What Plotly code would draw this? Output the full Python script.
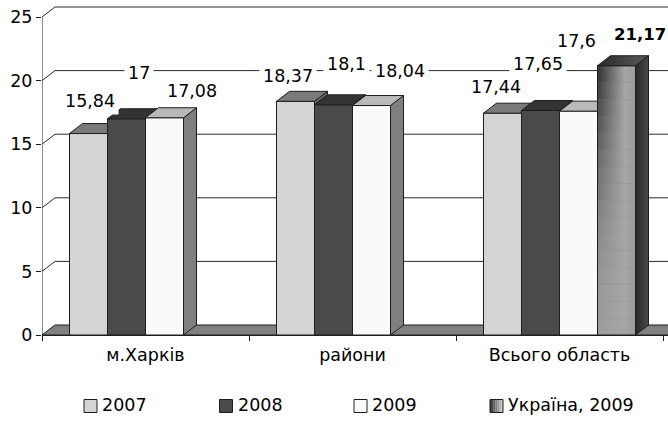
import plotly.graph_objects as go

# ---- data -------------------------------------------------------------
categories = ["м.Харків", "райони", "Всього область"]
series_names = ["2007", "2008", "2009", "Україна, 2009"]
values_2007 = [15.84, 18.37, 17.44]
values_2008 = [17, 18.1, 17.65]
values_2009 = [17.08, 18.04, 17.6]
values_ukraine_2009 = [None, None, 21.17]
y_tick_values = [0, 5, 10, 15, 20, 25]

series_values = [values_2007, values_2008, values_2009, values_ukraine_2009]

# ---- styling ----------------------------------------------------------
FONT = "DejaVu Sans"
FS = 17.5
INK = "#1e1e1e"
front_colors = ["#d4d4d4", "#4a4a4a", "#fafafa", "#7a7a7a"]
top_colors = ["#7a7a7a", "#333333", "#b9b9b9", "#3a3a3a"]
side_colors = ["#6a6a6a", "#2e2e2e", "#7f7f7f", "#303030"]

# label offsets (px) from the centre of each bar's top edge, per series/group
label_shift = [
    [(1.5, 32.5), (-7.5, 25), (-6.5, 25.7)],
    [(12, 46), (13, 41), (-3, 46.5)],
    [(27, 27), (28.5, 34.5), (-2, 70.6)],
    [None, None, (23, 31.7)],
]

# legend entry positions (px from the page's left edge) and row centre
legend_left = [84, 219.5, 354, 490]
legend_row_y = 406

# ---- geometry of the plotting area ------------------------------------
W, H = 668, 421
ML, MR, MT, MB = 42, 0, 0, 86
plot_w, plot_h = W - ML - MR, H - MT - MB
px_per_cat = 207.0
px_per_unit = 12.72
x0 = -0.5
x1 = x0 + plot_w / px_per_cat
y1 = plot_h / px_per_unit

# depth of the pseudo-3D boxes, in data units
DEPTH_PX = (13, 10)
dx = DEPTH_PX[0] / px_per_cat
dy = DEPTH_PX[1] / px_per_unit

n_series = len(series_values)
bargap = 0.2657
bw = (1 - bargap) / n_series

fig = go.Figure()

# front faces
for s, (name, vals) in enumerate(zip(series_names, series_values)):
    fig.add_trace(go.Bar(
        name=name, x=list(range(len(categories))), y=vals,
        marker=dict(color=front_colors[s], line=dict(color=INK, width=1)),
        hoverinfo="skip", showlegend=False,
    ))


def poly(xs, ys, color, gradient=None, width=1):
    kw = dict(
        x=xs + [xs[0]], y=ys + [ys[0]], mode="lines", fill="toself",
        fillcolor=color, line=dict(color=INK, width=width),
        showlegend=False, hoverinfo="skip",
    )
    if gradient is not None:
        kw["fillgradient"] = dict(type="horizontal", colorscale=gradient)
    fig.add_trace(go.Scatter(**kw))


def mix(c1, c2, t):
    a = [int(c1[i:i + 2], 16) for i in (1, 3, 5)]
    b = [int(c2[i:i + 2], 16) for i in (1, 3, 5)]
    return "#" + "".join(f"{round(p + (q - p) * t):02x}" for p, q in zip(a, b))


# shaded front of the national bar: darker towards the top-left
for c in range(len(categories)):
    v = values_ukraine_2009[c]
    if v is None:
        continue
    cx = c + (3 - 1.5) * bw
    L, R = cx - bw / 2, cx + bw / 2
    bands = 16
    for k in range(bands):
        ya, yb = v * k / bands, v * (k + 1) / bands
        f = ((k + 0.5) / bands) ** 1.8
        left = mix("#9c9c9c", "#2c2c2c", f)
        grad = [[0, left], [0.72, "#a6a6a6"], [1, "#9a9a9a"]]
        poly([L, R, R, L], [ya, ya, yb, yb], "#999999", grad, width=0)
    poly([L, R, R, L], [0, 0, v, v], "rgba(0,0,0,0)")

# tops and visible sides
for c in range(len(categories)):
    for s in range(n_series):
        t = series_values[s][c]
        if t is None:
            continue
        cx = c + (s - 1.5) * bw
        L, R = cx - bw / 2, cx + bw / 2
        tn = series_values[s + 1][c] if s + 1 < n_series else None
        is_ua = s == 3
        # side face
        if tn is None:
            poly([R, R, R + dx, R + dx], [0, t, t + dy, dy], side_colors[s],
                 [[0, "#262626"], [1, "#4a4a4a"]] if is_ua else None)
        elif tn < t:
            poly([R, R, R + dx, R + dx], [tn, t, t + dy, tn + dy], side_colors[s])
        # top face (part hidden by a taller neighbour is cut away)
        h = 0.0 if tn is None else min(max(tn - t, 0.0), dy)
        if h <= 0:
            xs = [L, R, R + dx, L + dx]
            ys = [t, t, t + dy, t + dy]
        elif h >= dy:
            xs = [L, R, R, L + dx]
            ys = [t, t, t + dy, t + dy]
        else:
            xs = [L, R, R, R + dx * h / dy, R + dx, L + dx]
            ys = [t, t, t + h, t + h, t + dy, t + dy]
        poly(xs, ys, top_colors[s],
             [[0, "#2a2a2a"], [1, "#5a5a5a"]] if is_ua else None)

# value labels
for s in range(n_series):
    for c in range(len(categories)):
        v = series_values[s][c]
        if v is None:
            continue
        sx, sy = label_shift[s][c]
        bold = s == 3
        fig.add_annotation(
            x=c + (s - 1.5) * bw, y=v, xref="x", yref="y",
            text=(f"<b>{v:g}</b>" if bold else f"{v:g}").replace(".", ","),
            showarrow=False, xshift=sx, yshift=sy,
            font=dict(family=FONT, size=16.5 if bold else FS, color="#000"),
            bgcolor="white", borderpad=3,
        )

# walls, floor and gridlines
shapes = []
floor_path = (f"M{x0},0 L{x0 + dx},{dy} L{x1 + dx},{dy} L{x1 + dx},0 Z")
shapes.append(dict(type="path", path=floor_path, xref="x", yref="y",
                   fillcolor="#808080", line=dict(color=INK, width=1),
                   layer="below"))
for v in y_tick_values[1:]:
    shapes.append(dict(type="line", xref="x", yref="y", x0=x0 + dx, x1=x1 + dx,
                       y0=v + dy, y1=v + dy, line=dict(color="#2a2a2a", width=1),
                       layer="below"))
    shapes.append(dict(type="line", xref="x", yref="y", x0=x0, x1=x0 + dx,
                       y0=v, y1=v + dy, line=dict(color="#2a2a2a", width=1),
                       layer="below"))
shapes.append(dict(type="line", xref="x", yref="y", x0=x0, x1=x0,
                   y0=0, y1=y_tick_values[-1], line=dict(color=INK, width=1),
                   layer="below"))


# legend row: key squares and labels
def px_x(p):
    return (p - ML) / plot_w


def px_y(p):
    return (MT + plot_h - p) / plot_h


KEY = 13
for s, name in enumerate(series_names):
    lx = legend_left[s]
    kx0, kx1 = px_x(lx), px_x(lx + KEY)
    ky0, ky1 = px_y(legend_row_y + KEY / 2), px_y(legend_row_y - KEY / 2)
    if s == 3:
        strips = 7
        for k in range(strips):
            a = lx + KEY * k / strips
            b = lx + KEY * (k + 1) / strips
            shapes.append(dict(type="rect", xref="paper", yref="paper",
                               x0=px_x(a), x1=px_x(b), y0=ky0, y1=ky1,
                               fillcolor=mix("#2c2c2c", "#c8c8c8", k / (strips - 1)),
                               line=dict(width=0), layer="above"))
        shapes.append(dict(type="rect", xref="paper", yref="paper",
                           x0=kx0, x1=kx1, y0=ky0, y1=ky1,
                           fillcolor="rgba(0,0,0,0)",
                           line=dict(color=INK, width=1), layer="above"))
    else:
        shapes.append(dict(type="rect", xref="paper", yref="paper",
                           x0=kx0, x1=kx1, y0=ky0, y1=ky1,
                           fillcolor=front_colors[s],
                           line=dict(color=INK, width=1), layer="above"))
    fig.add_annotation(
        x=px_x(lx + KEY + 3), y=px_y(legend_row_y - 1), xref="paper", yref="paper",
        text=name, showarrow=False, xanchor="left", yanchor="middle",
        font=dict(family=FONT, size=FS, color="#000"),
    )

fig.update_layout(
    width=W, height=H,
    margin=dict(l=ML, r=MR, t=MT, b=MB, pad=0),
    paper_bgcolor="white", plot_bgcolor="white",
    barmode="group", bargap=bargap, bargroupgap=0,
    font=dict(family=FONT, size=FS, color="#000"),
    shapes=shapes,
    showlegend=False,
    xaxis=dict(range=[x0, x1], tickvals=list(range(len(categories))),
               ticktext=categories, ticks="", showgrid=False, zeroline=False,
               showline=True, linecolor=INK, linewidth=1, ticklabelstandoff=4,
               minor=dict(tickvals=[x0 + i for i in range(len(categories) + 1)],
                          ticks="outside", ticklen=5, tickcolor=INK,
                          showgrid=False),
               fixedrange=True),
    yaxis=dict(range=[0, y1], tickvals=y_tick_values, ticks="outside",
               ticklen=5, tickcolor=INK, showgrid=False, zeroline=False,
               showline=False, fixedrange=True),
)

fig.write_html("out.html")
